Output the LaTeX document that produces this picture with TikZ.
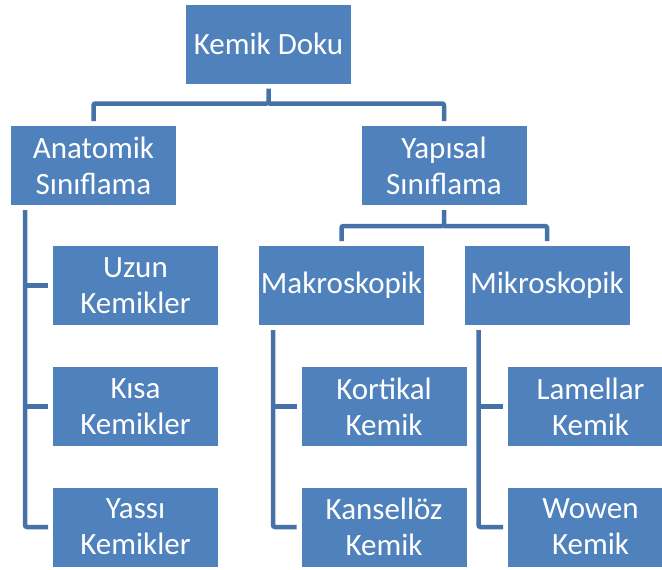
\documentclass[tikz,border=0pt]{standalone}
\usepackage{fontspec}
\setmainfont{Carlito}
\definecolor{boxblue}{HTML}{4F81BD}
\definecolor{lineblue}{HTML}{4672A8}
\tikzset{
  box/.style={fill=boxblue, text=white, minimum width=165pt, minimum height=79pt,
    inner sep=0pt, outer sep=5pt, align=center,
    font=\fontsize{31}{36}\selectfont},
  conn/.style={draw=lineblue, line width=4.5pt, rounded corners=2pt}
}
\begin{document}
\begin{tikzpicture}[x=1pt,y=-1pt]
\useasboundingbox (0,0) rectangle (662,570);
\begin{scope}
\clip (0,0) rectangle (662,570);
\node[box] (root) at (268.5,44) {Kemik Doku};
\node[box] (anat) at (93.5,165.5) {Anatomik\\Sınıflama};
\node[box] (yap) at (444,165.5) {Yapısal\\Sınıflama};
\node[box] (uzun) at (135.5,285.5) {Uzun\\Kemikler};
\node[box] (kisa) at (135.5,406.5) {Kısa\\Kemikler};
\node[box] (yassi) at (135.5,527) {Yassı\\Kemikler};
\node[box] (makro) at (341.5,285.5) {Makroskopik};
\node[box] (mikro) at (547,285.5) {Mikroskopik};
\node[box] (kort) at (384,406.5) {Kortikal\\Kemik};
\node[box] (kans) at (384,527) {Kansellöz\\Kemik};
\node[box] (lam) at (590.5,406.5) {Lamellar\\Kemik};
\node[box] (wow) at (590.5,527) {Wowen\\Kemik};

\coordinate (rj) at ([yshift=-15pt]root.south);
\draw[conn] (root.south) -- (rj) -| (anat.north);
\draw[conn] (rj) -| (yap.north);
\coordinate (yj) at ([yshift=-16pt]yap.south);
\draw[conn] (yap.south) -- (yj) -| (makro.north);
\draw[conn] (yj) -| (mikro.north);

\coordinate (aL) at ([xshift=19pt]anat.south west);
\draw[conn] (aL) |- (yassi.west);
\draw[conn] (aL |- uzun.west) -- (uzun.west);
\draw[conn] (aL |- kisa.west) -- (kisa.west);

\coordinate (mL) at ([xshift=19pt]makro.south west);
\draw[conn] (mL) |- (kans.west);
\draw[conn] (mL |- kort.west) -- (kort.west);

\coordinate (iL) at ([xshift=19pt]mikro.south west);
\draw[conn] (iL) |- (wow.west);
\draw[conn] (iL |- lam.west) -- (lam.west);
\end{scope}
\end{tikzpicture}
\end{document}
